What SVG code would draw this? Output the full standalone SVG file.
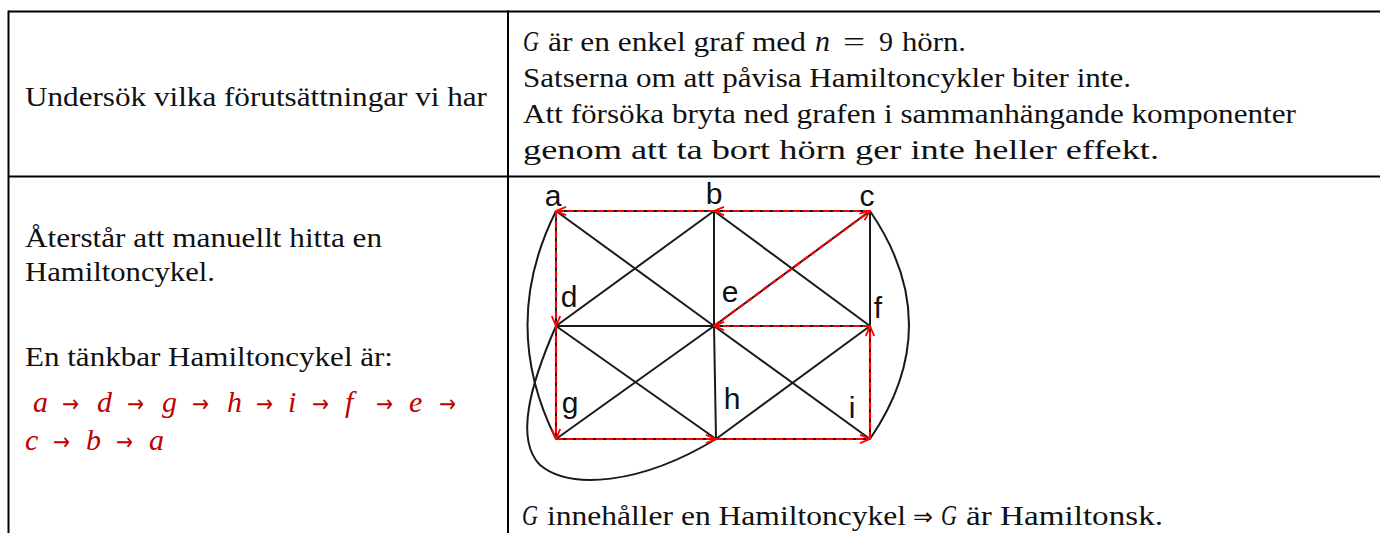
<svg xmlns="http://www.w3.org/2000/svg" width="1380" height="533" viewBox="0 0 1380 533">
<style>
.tx{font-family:"Liberation Serif","Times New Roman",serif;font-size:28px;fill:#111;}
.mi{font-family:"Liberation Serif","DejaVu Serif",serif;font-style:italic;font-size:30px;}
.mu{font-family:"Liberation Serif","DejaVu Serif",serif;font-size:28px;}
.ar{font-family:"DejaVu Sans",sans-serif;font-size:24px;}
.red{fill:#C00000;}
.lbl{font-family:"Liberation Sans",Arial,sans-serif;font-size:30px;fill:#111;text-anchor:middle;}
.grid{stroke:#000;stroke-width:2;fill:none;}
.edge{stroke:#1a1a1a;stroke-width:2;fill:none;}
.path{stroke:#FF0000;stroke-width:2.2;stroke-dasharray:7 3;fill:none;marker-end:url(#ah);}
</style>
<defs>
<marker id="ah" viewBox="0 0 12 10" refX="11" refY="5" markerWidth="12" markerHeight="10" markerUnits="userSpaceOnUse" orient="auto">
<path d="M1,0.8 L11,5 L1,9.2" fill="none" stroke="#FF0000" stroke-width="1.8"/>
</marker>
</defs>
<rect width="1380" height="533" fill="#fff"/>
<g id="table">
<line class="grid" x1="8.5" y1="11.5" x2="1380" y2="11.5"/>
<line class="grid" x1="8.5" y1="176.5" x2="1380" y2="176.5"/>
<line class="grid" x1="8.5" y1="10.5" x2="8.5" y2="533"/>
<line class="grid" x1="508" y1="10.5" x2="508" y2="533"/>
</g>
<g id="cell-top-left">
<text class="tx" x="25" y="106" textLength="462" lengthAdjust="spacingAndGlyphs">Undersök vilka förutsättningar vi har</text>
</g>
<g id="cell-top-right">
<text class="tx" y="51"><tspan class="mi" x="523" textLength="16" lengthAdjust="spacingAndGlyphs">G</tspan><tspan x="548" textLength="258" lengthAdjust="spacingAndGlyphs">är en enkel graf med</tspan><tspan class="mi" x="815">n</tspan><tspan class="mu" x="843" textLength="22" lengthAdjust="spacingAndGlyphs">=</tspan><tspan class="mu" x="879">9</tspan><tspan x="902" textLength="64" lengthAdjust="spacingAndGlyphs">hörn.</tspan></text>
<text class="tx" x="523" y="87" textLength="608" lengthAdjust="spacingAndGlyphs">Satserna om att påvisa Hamiltoncykler biter inte.</text>
<text class="tx" x="523" y="123" textLength="773" lengthAdjust="spacingAndGlyphs">Att försöka bryta ned grafen i sammanhängande komponenter</text>
<text class="tx" x="523" y="159" textLength="636" lengthAdjust="spacingAndGlyphs">genom att ta bort hörn ger inte heller effekt.</text>
</g>
<g id="cell-bottom-left">
<text class="tx" x="25" y="247" textLength="357" lengthAdjust="spacingAndGlyphs">Återstår att manuellt hitta en</text>
<text class="tx" x="25" y="281" textLength="190" lengthAdjust="spacingAndGlyphs">Hamiltoncykel.</text>
<text class="tx" x="25" y="366" textLength="368" lengthAdjust="spacingAndGlyphs">En tänkbar Hamiltoncykel är:</text>
<g class="red">
<text class="mi red" x="33" y="412">a</text>
<text class="ar red" x="62" y="412" textLength="17" lengthAdjust="spacingAndGlyphs">→</text>
<text class="mi red" x="97" y="412">d</text>
<text class="ar red" x="127" y="412" textLength="17" lengthAdjust="spacingAndGlyphs">→</text>
<text class="mi red" x="162" y="412">g</text>
<text class="ar red" x="192" y="412" textLength="17" lengthAdjust="spacingAndGlyphs">→</text>
<text class="mi red" x="227" y="412">h</text>
<text class="ar red" x="256" y="412" textLength="17" lengthAdjust="spacingAndGlyphs">→</text>
<text class="mi red" x="288" y="412">i</text>
<text class="ar red" x="312" y="412" textLength="17" lengthAdjust="spacingAndGlyphs">→</text>
<text class="mi red" x="345" y="412">f</text>
<text class="ar red" x="376" y="412" textLength="17" lengthAdjust="spacingAndGlyphs">→</text>
<text class="mi red" x="409" y="412">e</text>
<text class="ar red" x="439" y="412" textLength="17" lengthAdjust="spacingAndGlyphs">→</text>
<text class="mi red" x="25" y="450">c</text>
<text class="ar red" x="53" y="450" textLength="17" lengthAdjust="spacingAndGlyphs">→</text>
<text class="mi red" x="86" y="450">b</text>
<text class="ar red" x="116" y="450" textLength="17" lengthAdjust="spacingAndGlyphs">→</text>
<text class="mi red" x="149" y="450">a</text>
</g>
</g>
<g id="cell-bottom-right-text">
<text class="tx" y="525"><tspan class="mi" x="522" textLength="16" lengthAdjust="spacingAndGlyphs">G</tspan><tspan x="547" textLength="359" lengthAdjust="spacingAndGlyphs">innehåller en Hamiltoncykel</tspan></text>
<text class="ar" x="913" y="525" textLength="20" lengthAdjust="spacingAndGlyphs" fill="#111">⇒</text>
<text class="tx" y="525"><tspan class="mi" x="941" textLength="16" lengthAdjust="spacingAndGlyphs">G</tspan><tspan x="966" textLength="197" lengthAdjust="spacingAndGlyphs">är Hamiltonsk.</tspan></text>
</g>
<g id="connectors">
<line class="edge" x1="556" y1="211" x2="714" y2="211"/>
<line class="edge" x1="714" y1="211" x2="870" y2="211"/>
<line class="edge" x1="556" y1="326" x2="714" y2="326"/>
<line class="edge" x1="714" y1="326" x2="870" y2="326"/>
<line class="edge" x1="556" y1="439" x2="716" y2="439"/>
<line class="edge" x1="716" y1="439" x2="870" y2="439"/>
<line class="edge" x1="556" y1="211" x2="556" y2="326"/>
<line class="edge" x1="556" y1="326" x2="556" y2="439"/>
<line class="edge" x1="714" y1="211" x2="714" y2="326"/>
<line class="edge" x1="714" y1="326" x2="716" y2="439"/>
<line class="edge" x1="870" y1="211" x2="870" y2="326"/>
<line class="edge" x1="870" y1="326" x2="870" y2="439"/>
<line class="edge" x1="556" y1="211" x2="714" y2="326"/>
<line class="edge" x1="714" y1="211" x2="556" y2="326"/>
<line class="edge" x1="714" y1="211" x2="870" y2="326"/>
<line class="edge" x1="870" y1="211" x2="714" y2="326"/>
<line class="edge" x1="556" y1="326" x2="716" y2="439"/>
<line class="edge" x1="714" y1="326" x2="556" y2="439"/>
<line class="edge" x1="714" y1="326" x2="870" y2="439"/>
<line class="edge" x1="870" y1="326" x2="716" y2="439"/>
<path class="edge" d="M556,211 Q499,325 556,439"/>
<path class="edge" d="M556,326 C530,385 515,440 540,465 C570,490 640,485 716,439"/>
<path class="edge" d="M870,211 Q948,325 870,439"/>
<path class="path" d="M556,211 L556,326"/>
<path class="path" d="M556,326 L556,439"/>
<path class="path" d="M556,439 L716,439"/>
<path class="path" d="M716,439 L870,439"/>
<path class="path" d="M870,439 L870,326"/>
<path class="path" d="M870,326 L714,326"/>
<path class="path" d="M714,326 L870,211"/>
<path class="path" d="M870,211 L714,211"/>
<path class="path" d="M714,211 L556,211"/>
</g>
<g id="node-a"><text class="lbl" x="553" y="206">a</text></g>
<g id="node-b"><text class="lbl" x="714" y="204">b</text></g>
<g id="node-c"><text class="lbl" x="867" y="206">c</text></g>
<g id="node-d"><text class="lbl" x="569" y="307">d</text></g>
<g id="node-e"><text class="lbl" x="730" y="302">e</text></g>
<g id="node-f"><text class="lbl" x="878" y="318">f</text></g>
<g id="node-g"><text class="lbl" x="570" y="413">g</text></g>
<g id="node-h"><text class="lbl" x="732" y="409">h</text></g>
<g id="node-i"><text class="lbl" x="852" y="418">i</text></g>
</svg>
